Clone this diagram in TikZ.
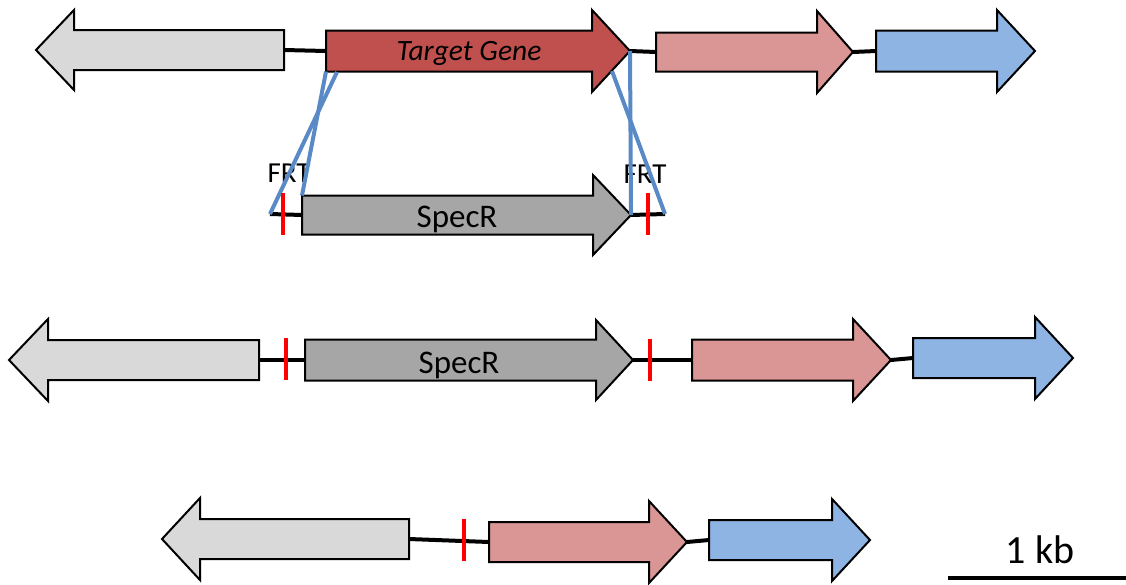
\documentclass[tikz,border=0pt]{standalone}
\usepackage{fontspec}
\setmainfont{Carlito}
\definecolor{glight}{HTML}{D9D9D9}
\definecolor{tgred}{HTML}{C0504D}
\definecolor{pinkg}{HTML}{D99694}
\definecolor{blueg}{HTML}{8DB4E2}
\definecolor{specg}{HTML}{A6A6A6}
\definecolor{xblue}{HTML}{5A8AC6}
\tikzset{
  genebox/.style={draw=black,line width=2pt,line join=miter},
  link/.style={draw=black,line width=4pt},
  xline/.style={draw=xblue,line width=4pt},
  frtmark/.style={rectangle,fill=red,draw=none,inner sep=0pt,minimum width=4.5pt,minimum height=42pt},
  lbl/.style={inner sep=0pt,anchor=base,text=black},
  scalebar/.style={draw=black,line width=3.5pt}
}
\newcommand\genearrow[8]{%
  \filldraw[genebox,fill=#2] ({#3},{#6-#7}) -- ({#4},{#6-#7}) -- ({#4},{#6-#8}) -- ({#5},{#6}) -- ({#4},{#6+#8}) -- ({#4},{#6+#7}) -- ({#3},{#6+#7}) -- cycle;
  \coordinate (#1-tail) at ({#3},{#6});
  \coordinate (#1-tip) at ({#5},{#6});
  \coordinate (#1-tt) at ({#3},{#6-#7});
  \coordinate (#1-tb) at ({#3},{#6+#7});
}
\begin{document}
\begin{tikzpicture}[x=1pt,y=-1pt]
\useasboundingbox (0,0) rectangle (1126,584);
% row 1
\genearrow{ga}{glight}{284}{74}{36}{50}{20}{40}
\genearrow{tg}{tgred}{326}{592}{630}{51}{20.5}{41}
\genearrow{pa}{pinkg}{656}{817}{853}{52}{19.5}{41}
\genearrow{ba}{blueg}{876}{997}{1035}{51}{20.5}{41}
\draw[link] (ga-tail) -- (tg-tail);
\draw[link] (tg-tip) -- (pa-tail);
\draw[link] (pa-tip) -- (ba-tail);
\node[lbl,font=\itshape\fontsize{29.5}{32}\selectfont] (tgtxt) at (469,60) {Target Gene};
% row 2
\coordinate (frtL) at (270,214);
\coordinate (frtR) at (665,214);
\genearrow{sb}{specg}{302}{593}{631}{215}{19.5}{40}
\draw[link] (frtL) -- (sb-tail);
\draw[link] (sb-tip) -- (frtR);
\node[lbl,font=\fontsize{33}{36}\selectfont] (sbtxt) at (457,227) {SpecR};
\node[lbl,font=\fontsize{29}{32}\selectfont] (frt1) at (289,182) {FRT};
\node[lbl,font=\fontsize{29}{32}\selectfont] (frt2) at (645,183) {FRT};
% crossover lines
\coordinate (xa) at (337,72);
\coordinate (xb) at (612,71);
\draw[xline] (tg-tb) -- (sb-tt);
\draw[xline] (xa) -- (frtL);
\draw[xline] (tg-tip) -- (sb-tip);
\draw[xline] (xb) -- (frtR);
\node[frtmark] (m1) at (283,214) {};
\node[frtmark] (m2) at (648,214) {};
% row 3
\genearrow{gc}{glight}{259}{48}{9}{360}{20}{41}
\genearrow{sc}{specg}{305}{596}{633}{360}{20.5}{40}
\genearrow{pc}{pinkg}{692}{853}{891}{360}{20.5}{41}
\genearrow{bc}{blueg}{913}{1035}{1073}{358}{20}{41}
\draw[link] (gc-tail) -- (sc-tail);
\draw[link] (sc-tip) -- (pc-tail);
\draw[link] (pc-tip) -- (bc-tail);
\node[lbl,font=\fontsize{33}{36}\selectfont] (sctxt) at (459,373) {SpecR};
\node[frtmark] (m3) at (286,359) {};
\node[frtmark] (m4) at (650,360) {};
% row 4
\genearrow{gd}{glight}{409}{200}{162}{539}{20}{41}
\genearrow{pd}{pinkg}{489}{649}{687}{542}{20}{41}
\genearrow{bd}{blueg}{709}{832}{870}{540}{20}{41}
\draw[link] (gd-tail) -- (pd-tail);
\draw[link] (pd-tip) -- (bd-tail);
\node[frtmark] (m5) at (464,540) {};
% scale bar
\coordinate (sL) at (948,578);
\coordinate (sR) at (1126,578);
\draw[scalebar] (sL) -- (sR);
\node[lbl,font=\fontsize{40}{44}\selectfont] (kb) at (1040,563) {1 kb};
\end{tikzpicture}
\end{document}
